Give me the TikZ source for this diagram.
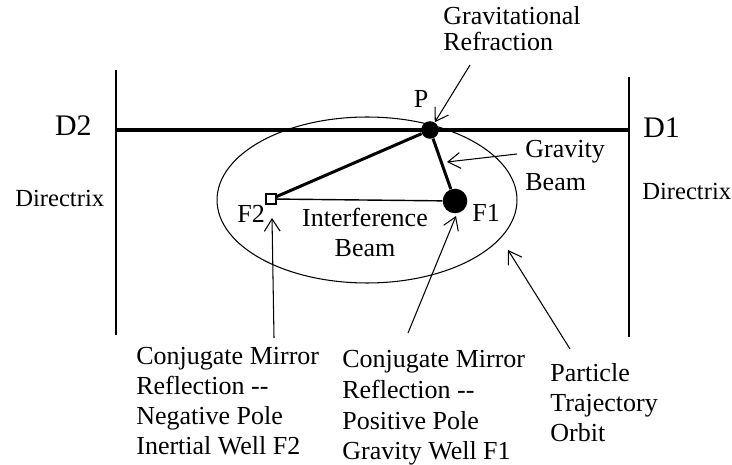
\documentclass[tikz,border=0pt]{standalone}
\usepackage{fontspec}
\setmainfont{Liberation Serif}
\usetikzlibrary{arrows.meta}

\tikzset{
  txt/.style={inner sep=0pt, align=left, font=\fontsize{14.8}{17}\selectfont},
  ptr/.style={-{Straight Barb[length=7pt,width=9pt]}, line width=0.6pt},
  beam/.style={line width=1.7pt},
}

\begin{document}
\begin{tikzpicture}[x=0.02cm, y=-0.02cm]
        \useasboundingbox (0,0) rectangle (732,465);

        % directrices
        \coordinate (d2-top) at (116, 70);
        \coordinate (d2-bot) at (116, 335);
        \coordinate (d1-top) at (629, 77);
        \coordinate (d1-bot) at (629, 337);
        \coordinate (d2-mid) at (116, 130);
        \coordinate (d1-mid) at (629, 130);

        \draw[line width=0.9pt] (d2-top) -- (d2-bot);
        \draw[line width=0.9pt] (d1-top) -- (d1-bot);
        \draw[line width=2.2pt] (d2-mid) -- (d1-mid);

        \node (D2) at (92, 136) [anchor=base east, inner sep=0pt, font=\fontsize{17}{20}\selectfont] {D2};
        \node (D1) at (643, 138) [anchor=base west, inner sep=0pt, font=\fontsize{17}{20}\selectfont] {D1};
        \node (dir-2) at (15, 207) [txt, anchor=base west, font=\fontsize{14}{17}\selectfont] {Directrix};
        \node (dir-1) at (642, 200) [txt, anchor=base west, font=\fontsize{14}{17}\selectfont] {Directrix};

        % orbit
        \draw[line width=0.6pt] (367, 200) ellipse [x radius=3cm, y radius=1.66cm];

        % points
        \node (p) at (430, 130) [circle, fill, inner sep=0pt, minimum size=10pt] {};
        \node (f1) at (455, 201) [circle, fill, inner sep=0pt, minimum size=14pt] {};
        \node (f2) at (271, 199) [rectangle, draw, fill=white, line width=0.8pt, inner sep=0pt, minimum size=5.5pt] {};

        \draw[beam] (p) -- (f2);
        \draw[beam] (p) -- (f1);
        \draw[line width=0.8pt] (f2) -- (f1);

        \node (p-lbl) at (421, 108) [anchor=base, inner sep=0pt, txt] {P};
        \node (f1-lbl) at (472, 222) [anchor=base west, txt] {F1};
        \node (f2-lbl) at (237, 223) [anchor=base west, txt] {F2};
        \node (ib) at (365, 208) [anchor=north, txt, align=center] {Interference\\Beam};

        % labels with arrows
        \node (gr) at (443, 6) [anchor=north west, txt, font=\fontsize{14.8}{14.7}\selectfont] {Gravitational\\Refraction};
        \node (gb) at (525, 140) [anchor=north west, txt, font=\fontsize{14.8}{18.5}\selectfont] {Gravity\\Beam};
        \node (cm-2) at (136, 347) [anchor=north west, txt] {Conjugate Mirror\\Reflection -{}-\\Negative Pole\\Inertial Well F2};
        \node (cm-1) at (342, 350) [anchor=north west, txt, font=\fontsize{14.8}{17.5}\selectfont] {Conjugate Mirror\\Reflection -{}-\\Positive Pole\\Gravity Well F1};
        \node (pt) at (550, 363) [anchor=north west, txt] {Particle\\Trajectory\\Orbit};

        \coordinate (gr-tail) at (470, 65);
        \coordinate (gb-tail) at (517, 154);
        \coordinate (gb-tip) at (447, 162);
        \coordinate (cm2-tail) at (274, 338);
        \coordinate (cm2-tip) at (272, 218);
        \coordinate (cm1-tail) at (408, 333);
        \coordinate (cm1-tip) at (456, 216);
        \coordinate (pt-tail) at (570, 349);
        \coordinate (pt-tip) at (508, 250);

        \draw[ptr] (gr-tail) -- (p);
        \draw[ptr] (gb-tail) -- (gb-tip);
        \draw[ptr] (cm2-tail) -- (cm2-tip);
        \draw[ptr] (cm1-tail) -- (cm1-tip);
        \draw[ptr] (pt-tail) -- (pt-tip);

    \end{tikzpicture}
\end{document}
